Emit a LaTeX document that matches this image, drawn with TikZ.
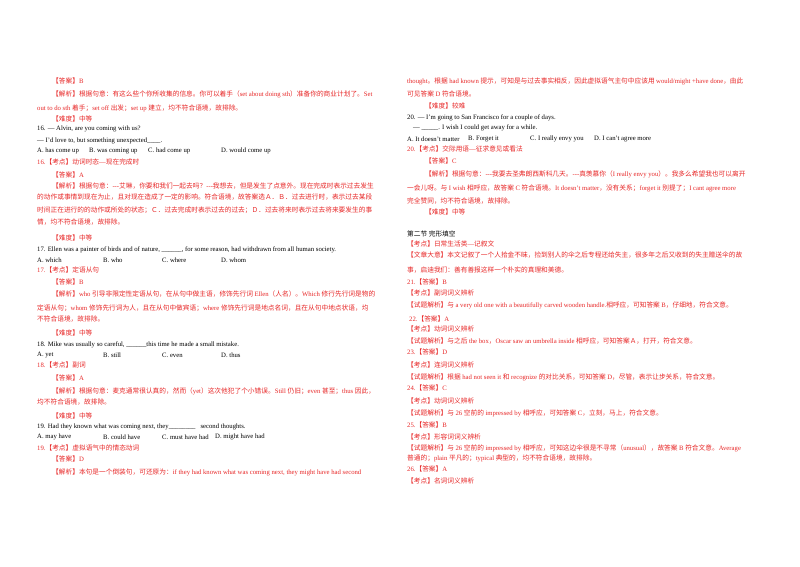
\documentclass[tikz,border=0pt]{standalone}
\usepackage{fontspec}
\setmainfont{Liberation Serif}
\newfontfamily\cjkf{Noto Sans CJK SC}
\newcount\cc
\XeTeXinterchartokenstate=1
\newXeTeXintercharclass\CJKcls
\cc="3000 \loop \XeTeXcharclass\cc=\CJKcls \ifnum\cc<"303F \advance\cc 1 \repeat
\cc="FF00 \loop \XeTeXcharclass\cc=\CJKcls \ifnum\cc<"FFEF \advance\cc 1 \repeat
\cc="4E00 \loop \XeTeXcharclass\cc=\CJKcls \ifnum\cc<"9FFF \advance\cc 1 \repeat
\XeTeXinterchartoks 0 \CJKcls = {\cjkf}
\XeTeXinterchartoks 4095 \CJKcls = {\cjkf}
\XeTeXinterchartoks \CJKcls 0 = {\rmfamily}
\XeTeXinterchartoks 4095 0 = {\rmfamily}
\definecolor{ans}{RGB}{232,40,40}
\tikzset{txt/.style={anchor=west,inner sep=0,font=\fontsize{6.7}{8}\selectfont},r/.style={txt,text=ans},b/.style={txt,text=black}}
\begin{document}
\begin{tikzpicture}[x=1pt,y=-1pt]
\useasboundingbox[fill=white] (0,0) rectangle (800,566);
% left column
\node[r] (a1) at (52,81) {【答案】B};
\node[r] (a2) at (52,94) {【解析】根据句意：有这么些个你所收集的信息。你可以着手（set about doing sth）准备你的商业计划了。Set};
\node[r] (a3) at (37,108) {out to do sth 着手；set off 出发；set up 建立，均不符合语境，故排除。};
\node[r] (a4) at (52,119) {【难度】中等};
\node[b] (a5) at (37,129) {16. — Alvin, are you coming with us?};
\node[b] (a6) at (37,141) {— I'd love to, but something unexpected\_\_\_\_.};
\node[b] (a7) at (37,151) {A. has come up};
\node[b] (a7b) at (89,151) {B. was coming up};
\node[b] (a7c) at (148,151) {C. had come up};
\node[b] (a7d) at (221,151) {D. would come up};
\node[r] (a8) at (37,162) {16.【考点】动词时态—现在完成时};
\node[r] (a9) at (52,175) {【答案】A};
\node[r] (a10) at (52,186) {【解析】根据句意：-{}-{}-艾琳，你要和我们一起去吗？-{}-{}-我想去，但是发生了点意外。现在完成时表示过去发生};
\node[r] (a11) at (37,197) {的动作或事情到现在为止，且对现在造成了一定的影响。符合语境，故答案选Ａ．Ｂ．过去进行时，表示过去某段};
\node[r] (a12) at (37,210) {时间正在进行的的动作或所处的状态；Ｃ．过去完成时表示过去的过去；Ｄ．过去将来时表示过去将来要发生的事};
\node[r] (a13) at (37,222) {情，均不符合语境，故排除。};
\node[r] (a14) at (52,238) {【难度】中等};
\node[b] (a15) at (37,250) {17. Ellen was a painter of birds and of nature, \_\_\_\_\_\_, for some reason, had withdrawn from all human society.};
\node[b] (a16) at (37,260) {A. which};
\node[b] (a16b) at (103,260) {B. who};
\node[b] (a16c) at (162,260) {C. where};
\node[b] (a16d) at (221,260) {D. whom};
\node[r] (a17) at (37,270) {17.【考点】定语从句};
\node[r] (a18) at (52,282) {【答案】B};
\node[r] (a19) at (52,294) {【解析】who 引导非限定性定语从句，在从句中做主语，修饰先行词 Ellen（人名）。Which 修行先行词是物的};
\node[r] (a20) at (37,308) {定语从句；whom 修饰先行词为人，且在从句中做宾语；where 修饰先行词是地点名词，且在从句中地点状语，均};
\node[r] (a21) at (37,319) {不符合语境，故排除。};
\node[r] (a22) at (52,333) {【难度】中等};
\node[b] (a23) at (37,345) {18. Mike was usually so careful, \_\_\_\_\_\_this time he made a small mistake.};
\node[b] (a24) at (37,355) {A. yet};
\node[b] (a24b) at (103,355) {B. still};
\node[b] (a24c) at (162,355) {C. even};
\node[b] (a24d) at (221,355) {D. thus};
\node[r] (a25) at (37,365) {18.【考点】副词};
\node[r] (a26) at (52,378) {【答案】A};
\node[r] (a27) at (52,391) {【解析】根据句意：麦克通常很认真的，然而（yet）这次他犯了个小错误。Still 仍旧；even 甚至；thus 因此，};
\node[r] (a28) at (37,402) {均不符合语境，故排除。};
\node[r] (a29) at (52,416) {【难度】中等};
\node[b] (a30) at (37,427) {19. Had they known what was coming next, they\_\_\_\_\_\_\_\_\ \ \ second thoughts.};
\node[b] (a31) at (37,437) {A. may have};
\node[b] (a31b) at (103,437) {B. could have};
\node[b] (a31c) at (162,437) {C. must have had};
\node[b] (a31d) at (215,437) {D. might have had};
\node[r] (a32) at (37,448) {19.【考点】虚拟语气中的情态动词};
\node[r] (a33) at (52,459) {【答案】D};
\node[r] (a34) at (52,472) {【解析】本句是一个倒装句，可还原为：if they had known what was coming next, they might have had second};
% right column
\node[r] (b1) at (407,81) {thought。根据 had known 提示，可知是与过去事实相反，因此虚拟语气主句中应该用 would/might +have done，由此};
\node[r] (b2) at (407,94) {可见答案 D 符合语境。};
\node[r] (b3) at (425,106) {【难度】较难};
\node[b] (b4) at (407,118) {20. — I'm going to San Francisco for a couple of days.};
\node[b] (b5) at (413,128) {— \_\_\_\_\_. I wish I could get away for a while.};
\node[b] (b6) at (407,139) {A. It doesn't matter};
\node[b] (b6b) at (468,139) {B. Forget it};
\node[b] (b6c) at (530,139) {C. I really envy you};
\node[b] (b6d) at (594,139) {D. I can't agree more};
\node[r] (b7) at (407,149) {20.【考点】交际用语—征求意见或看法};
\node[r] (b8) at (425,161) {【答案】C};
\node[r] (b9) at (425,174) {【解析】根据句意：-{}-{}-我要去圣弗朗西斯科几天。-{}-{}-真羡慕你（I really envy you）。我多么希望我也可以离开};
\node[r] (b10) at (407,188) {一会儿呀。与 I wish 相呼应，故答案 C 符合语境。It doesn’t matter，没有关系；forget it 别提了；I cant agree more};
\node[r] (b11) at (407,201) {完全赞同，均不符合语境，故排除。};
\node[r] (b12) at (425,212) {【难度】中等};
\node[b] (b13) at (407,234) {第二节 完形填空};
\node[r] (b14) at (407,244) {【考点】日常生活类—记叙文};
\node[r] (b15) at (407,255) {【文章大意】本文记叙了一个人拾金不昧，捡到别人的伞之后专程还给失主，很多年之后又收到的失主赠送伞的故};
\node[r] (b16) at (407,270) {事，启迪我们：善有善报这样一个朴实的真理和美德。};
\node[r] (b17) at (407,282) {21.【答案】B};
\node[r] (b18) at (407,293) {【考点】副词词义辨析};
\node[r] (b19) at (407,305) {【试题解析】与 a very old one with a beautifully carved wooden handle.相呼应，可知答案 B，仔细地，符合文意。};
\node[r] (b20) at (409,319) {22.【答案】A};
\node[r] (b21) at (407,329) {【考点】动词词义辨析};
\node[r] (b22) at (407,341) {【试题解析】与之后 the box，Oscar saw an umbrella inside 相呼应，可知答案Ａ，打开，符合文意。};
\node[r] (b23) at (407,352) {23.【答案】D};
\node[r] (b24) at (407,365) {【考点】连词词义辨析};
\node[r] (b25) at (407,377) {【试题解析】根据 had not seen it 和 recognize 的对比关系，可知答案 D，尽管，表示让步关系，符合文意。};
\node[r] (b26) at (407,388) {24.【答案】C};
\node[r] (b27) at (407,401) {【考点】动词词义辨析};
\node[r] (b28) at (407,413) {【试题解析】与 26 空前的 impressed by 相呼应，可知答案 C，立刻，马上，符合文意。};
\node[r] (b29) at (407,425) {25.【答案】B};
\node[r] (b30) at (407,437) {【考点】形容词词义辨析};
\node[r] (b31) at (407,448) {【试题解析】与 26 空前的 impressed by 相呼应，可知这边伞很是不寻常（unusual），故答案 B 符合文意。Average};
\node[r] (b32) at (407,458) {普通的；plain 平凡的；typical 典型的，均不符合语境，故排除。};
\node[r] (b33) at (407,469) {26.【答案】A};
\node[r] (b34) at (407,481) {【考点】名词词义辨析};
\end{tikzpicture}
\end{document}
